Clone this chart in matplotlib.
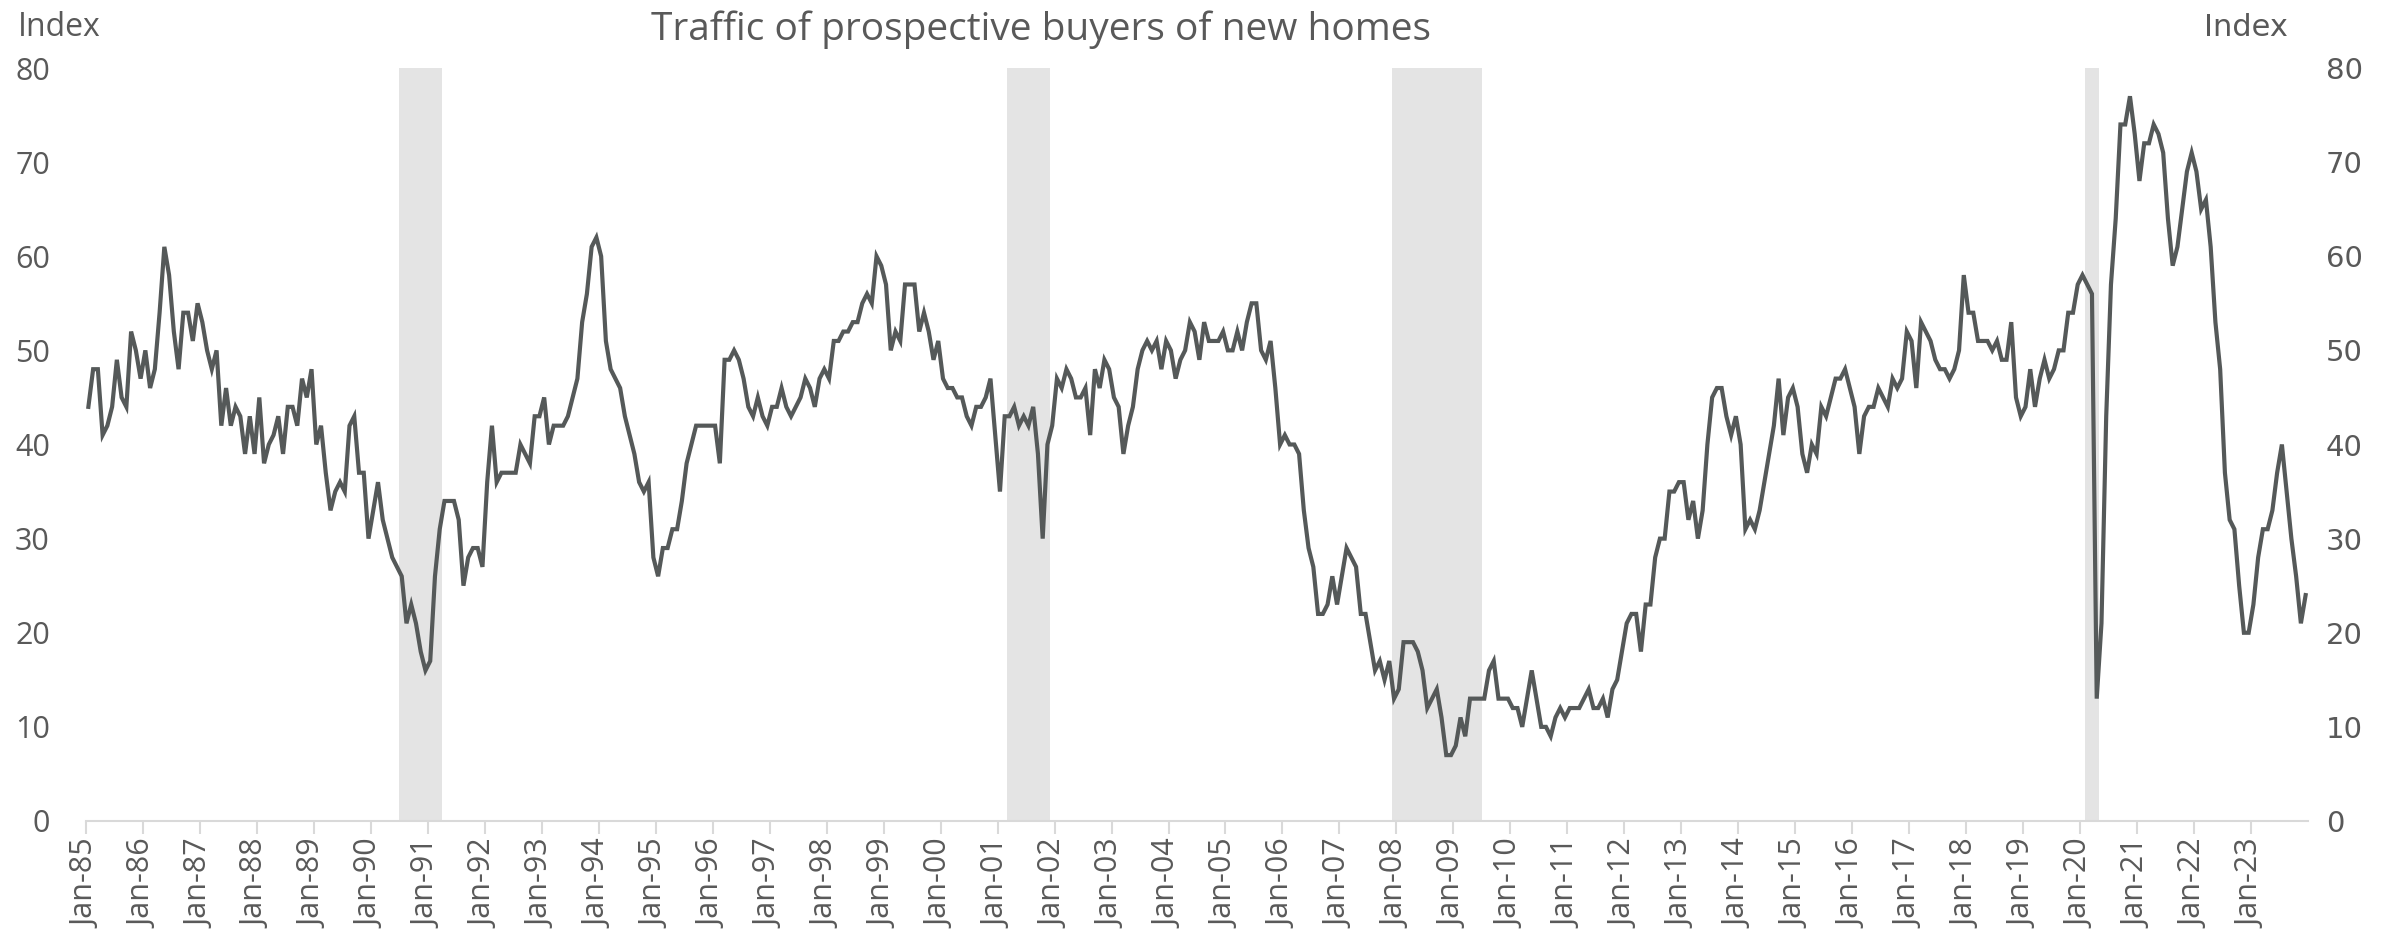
import matplotlib
matplotlib.use("Agg")
import matplotlib.pyplot as plt
import numpy as np

# Monthly index, Jan-1985 .. Dec-2023
y1985 = [44, 48, 48, 41, 42, 44, 49, 45, 44, 52, 50, 47]
y1986 = [50, 46, 48, 54, 61, 58, 52, 48, 54, 54, 51, 55]
y1987 = [53, 50, 48, 50, 42, 46, 42, 44, 43, 39, 43, 39]
y1988 = [45, 38, 40, 41, 43, 39, 44, 44, 42, 47, 45, 48]
y1989 = [40, 42, 37, 33, 35, 36, 35, 42, 43, 37, 37, 30]
y1990 = [33, 36, 32, 30, 28, 27, 26, 21, 23, 21, 18, 16]
y1991 = [17, 26, 31, 34, 34, 34, 32, 25, 28, 29, 29, 27]
y1992 = [36, 42, 36, 37, 37, 37, 37, 40, 39, 38, 43, 43]
y1993 = [45, 40, 42, 42, 42, 43, 45, 47, 53, 56, 61, 62]
y1994 = [60, 51, 48, 47, 46, 43, 41, 39, 36, 35, 36, 28]
y1995 = [26, 29, 29, 31, 31, 34, 38, 40, 42, 42, 42, 42]
y1996 = [42, 38, 49, 49, 50, 49, 47, 44, 43, 45, 43, 42]
y1997 = [44, 44, 46, 44, 43, 44, 45, 47, 46, 44, 47, 48]
y1998 = [47, 51, 51, 52, 52, 53, 53, 55, 56, 55, 60, 59]
y1999 = [57, 50, 52, 51, 57, 57, 57, 52, 54, 52, 49, 51]
y2000 = [47, 46, 46, 45, 45, 43, 42, 44, 44, 45, 47, 41]
y2001 = [35, 43, 43, 44, 42, 43, 42, 44, 39, 30, 40, 42]
y2002 = [47, 46, 48, 47, 45, 45, 46, 41, 48, 46, 49, 48]
y2003 = [45, 44, 39, 42, 44, 48, 50, 51, 50, 51, 48, 51]
y2004 = [50, 47, 49, 50, 53, 52, 49, 53, 51, 51, 51, 52]
y2005 = [50, 50, 52, 50, 53, 55, 55, 50, 49, 51, 46, 40]
y2006 = [41, 40, 40, 39, 33, 29, 27, 22, 22, 23, 26, 23]
y2007 = [26, 29, 28, 27, 22, 22, 19, 16, 17, 15, 17, 13]
y2008 = [14, 19, 19, 19, 18, 16, 12, 13, 14, 11, 7, 7]
y2009 = [8, 11, 9, 13, 13, 13, 13, 16, 17, 13, 13, 13]
y2010 = [12, 12, 10, 13, 16, 13, 10, 10, 9, 11, 12, 11]
y2011 = [12, 12, 12, 13, 14, 12, 12, 13, 11, 14, 15, 18]
y2012 = [21, 22, 22, 18, 23, 23, 28, 30, 30, 35, 35, 36]
y2013 = [36, 32, 34, 30, 33, 40, 45, 46, 46, 43, 41, 43]
y2014 = [40, 31, 32, 31, 33, 36, 39, 42, 47, 41, 45, 46]
y2015 = [44, 39, 37, 40, 39, 44, 43, 45, 47, 47, 48, 46]
y2016 = [44, 39, 43, 44, 44, 46, 45, 44, 47, 46, 47, 52]
y2017 = [51, 46, 53, 52, 51, 49, 48, 48, 47, 48, 50, 58]
y2018 = [54, 54, 51, 51, 51, 50, 51, 49, 49, 53, 45, 43]
y2019 = [44, 48, 44, 47, 49, 47, 48, 50, 50, 54, 54, 57]
y2020 = [58, 57, 56, 13, 21, 43, 57, 64, 74, 74, 77, 73]
y2021 = [68, 72, 72, 74, 73, 71, 64, 59, 61, 65, 69, 71]
y2022 = [69, 65, 66, 61, 53, 48, 37, 32, 31, 25, 20, 20]
y2023 = [23, 28, 31, 31, 33, 37, 40, 35, 30, 26, 21, 24]

years = list(range(1985, 2024))
tick_labels = [f"Jan-{y % 100:02d}" for y in years]

# Recessions (start year, start month, end year, end month)
recessions = [(1990, 7, 1991, 3), (2001, 3, 2001, 11), (2007, 12, 2009, 6), (2020, 2, 2020, 4)]

series = np.array(sum([globals()[f"y{y}"] for y in years], []), dtype=float)
months = np.arange(len(series))

W, H = 2387, 949
fig = plt.figure(figsize=(W / 100, H / 100), dpi=100)
ax = fig.add_axes([86 / W, 1 - 821 / H, (2308 - 86) / W, (821 - 68) / H])

band_color = "#e4e4e4"
for sy, sm, ey, em in recessions:
    s = (sy - 1985) * 12 + (sm - 1)
    e = (ey - 1985) * 12 + (em - 1)
    ax.axvspan(s - 0.5, e + 0.5, color=band_color, lw=0, zorder=0)

ax.plot(months, series, color="#555959", lw=3.0, solid_joinstyle="miter", zorder=3)

ax.set_xlim(-0.5, len(series) - 0.5)
ax.set_ylim(0, 80)

text_col = "#595959"
ax.set_xticks([12 * i - 0.5 for i in range(len(years))])
ax.set_xticklabels(tick_labels, rotation=90, fontsize=22, color=text_col, family="Open Sans")
ax.tick_params(axis="x", length=9, width=1.5, color="#d9d9d9", pad=4)

ax.set_yticks(range(0, 81, 10))
ax.tick_params(axis="y", length=0, labelsize=22, labelcolor=text_col, pad=26)
for lab in ax.get_yticklabels():
    lab.set_family("Open Sans")

for sp in ["left", "right", "top"]:
    ax.spines[sp].set_visible(False)
ax.spines["bottom"].set_color("#d9d9d9")
ax.spines["bottom"].set_linewidth(1.5)

ax2 = ax.twinx()
ax2.set_ylim(0, 80)
ax2.set_yticks(range(0, 81, 10))
ax2.tick_params(axis="y", length=0, labelsize=21, labelcolor=text_col, pad=13)
for lab in ax2.get_yticklabels():
    lab.set_family("DejaVu Sans")
for sp in ["left", "right", "top", "bottom"]:
    ax2.spines[sp].set_visible(False)

fig.text(18 / W, 1 - 28 / H, "Index", fontsize=23, color=text_col, family="Open Sans", va="center", ha="left")
fig.text(2288 / W, 1 - 28 / H, "Index", fontsize=22, color=text_col, family="DejaVu Sans", va="center", ha="right")
fig.text(1041 / W, 1 - 30 / H, "Traffic of prospective buyers of new homes", fontsize=28,
         color=text_col, family="Open Sans", va="center", ha="center")

fig.savefig("out.png", dpi=100)
